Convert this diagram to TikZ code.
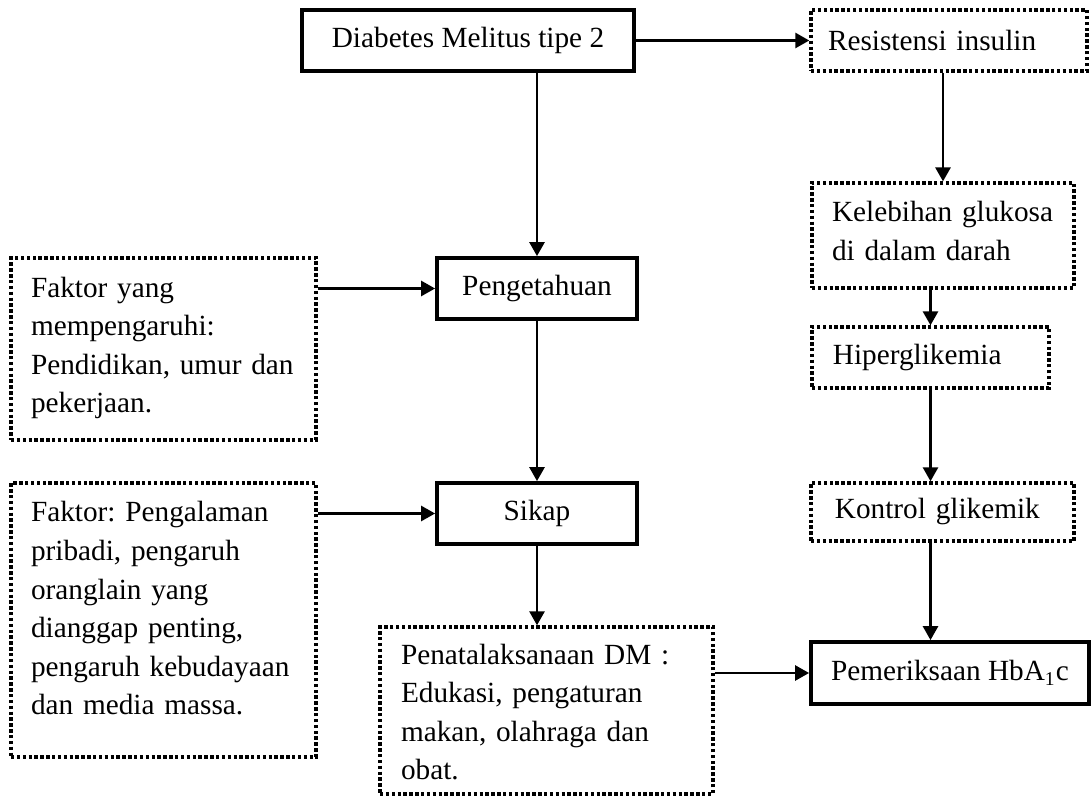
\documentclass[tikz,border=0pt]{standalone}
\usepackage{fontspec}
\setmainfont{Liberation Serif}
\usetikzlibrary{positioning,arrows.meta}
\frenchspacing

\begin{document}
\begin{tikzpicture}[x=0.41pt,y=-0.41pt,>={Triangle[length=5.7pt,width=6.2pt]},
  font=\fontsize{12}{15.8}\selectfont,
  solid box/.style={draw,line width=1.6pt,inner sep=0pt,align=center},
  dot box/.style={draw,line width=1.4pt,dash pattern=on 1.4pt off 1pt,inner ysep=0pt,align=left}]
   \useasboundingbox (0,0) rectangle (1092,796);
   % middle column
   \node[solid box,minimum width=136.1pt,minimum height=25pt] (dm)  at (468,40.5)  {Diabetes Melitus tipe 2};
   \node[solid box,minimum width=82pt,minimum height=25pt]    (pen) at (537,288.5) {Pengetahuan};
   \node[solid box,minimum width=82pt,minimum height=25pt]    (sik) at (537,513.5) {Sikap};
   \node[dot box,inner xsep=8.6pt,text width=119.3pt,minimum height=68.5pt,
         text height=8pt,text depth=46.1pt] (pnt) at (546.5,710.5)
        {Penatalaksanaan DM :\\ Edukasi, pengaturan\\ makan, olahraga dan\\ obat.};
   % left column
   \node[dot box,inner xsep=8.2pt,text width=108.6pt,minimum height=74.6pt,
         text height=8pt,text depth=50.6pt] (f1) at (163.5,349)
        {Faktor yang\\ mempengaruhi:\\ Pendidikan, umur dan\\ pekerjaan.};
   \node[dot box,inner xsep=8.2pt,text width=108.6pt,minimum height=112.3pt,
         text height=8pt,text depth=88.4pt] (f2) at (163.5,620)
        {Faktor: Pengalaman\\ pribadi, pengaruh\\ oranglain yang\\ dianggap penting,\\ pengaruh kebudayaan\\ dan media massa.};
   % right column
   \node[dot box,inner xsep=7pt,text width=99.2pt,minimum height=25pt]   (res) at (949,40.5)  {Resistensi insulin};
   \node[dot box,inner xsep=8.2pt,text width=91pt,minimum height=43pt,
         text height=8pt,text depth=19.1pt] (kel) at (943,235.5)
        {Kelebihan glukosa\\ di dalam darah};
   \node[dot box,inner xsep=8.6pt,text width=80pt,minimum height=25pt]   (hip) at (930.5,357.5) {Hiperglikemia};
   \node[dot box,inner xsep=9.8pt,text width=88.2pt,minimum height=23.8pt] (kon) at (942.5,512) {Kontrol glikemik};
   \node[solid box,minimum width=114pt,minimum height=25.4pt] (pem) at (950,673) {Pemeriksaan HbA\textsubscript{1}c};

    \path[->,line width=0.9pt]
    (dm)                   edge  (res)
    (pen.north |- dm.south) edge (pen.north)
    (pen)                  edge  (sik)
    (sik.south)            edge  (sik.south |- pnt.north)
    (f1.east |- pen.west)  edge  (pen.west)
    (f2.east |- sik.west)  edge  (sik.west)
    (pnt.east |- pem.west) edge  (pem.west)
    (kel.north |- res.south) edge (kel.north)
    (hip.north |- kel.south) edge (hip.north)
    (hip.south)            edge  (hip.south |- kon.north)
    (hip.south |- kon.south) edge (hip.south |- pem.north);
\end{tikzpicture}
\end{document}
